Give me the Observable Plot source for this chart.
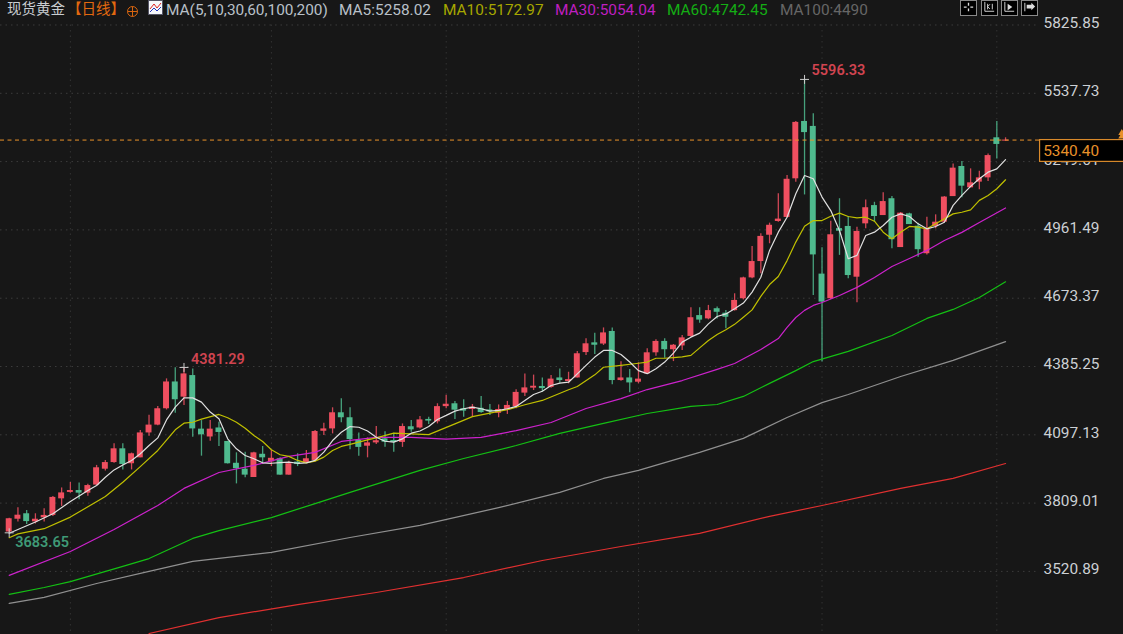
<!DOCTYPE html>
<html>
<head>
<meta charset="utf-8">
<script src="https://cdn.jsdelivr.net/npm/d3@7"></script>
<script src="https://cdn.jsdelivr.net/npm/@observablehq/plot@0.6"></script>
<style>
html,body{margin:0;padding:0;background:#171717;overflow:hidden}
#wrap{position:relative;width:1123px;height:634px;font-family:Roboto,"Noto Sans CJK SC",sans-serif}
#wrap svg.plot{display:block}
.h{position:absolute;top:0;height:18px;line-height:18px;font-size:15px;white-space:nowrap}
.tool{position:absolute;top:0;width:17px;height:16px;background:#000;border:1px solid #8a8a8a;box-sizing:border-box}
</style>
</head>
<body>
<div id="wrap"></div>
<script>
const opens=[3687,3741,3764,3730,3747,3757,3827,3854,3862,3851,3885,3952,3980,4038,3975,4000,4105,4138,4207,4320,4256,4347,4121,4088,4126,4069,3977,3952,3917,4015,3983,3996,3927,3982,3977,3989,4112,4122,4190,4169,4073,4049,4063,4080,4073,4065,4131,4126,4162,4152,4216,4228,4207,4204,4209,4202,4188,4204,4216,4273,4294,4301,4297,4337,4322,4337,4444,4485,4480,4533,4326,4337,4319,4354,4443,4491,4456,4472,4512,4600,4586,4629,4610,4621,4671,4759,4828,4939,4997,5014,5177,5419,5398,4775,4671,4967,4976,4762,4987,5064,5022,5093,4887,5029,4977,4861,4976,4994,5102,5229,5139,5163,5181,5350,5336];
const highs=[3745,3789,3778,3764,3785,3837,3873,3896,3894,3888,3968,3989,4059,4059,4020,4115,4180,4216,4333,4380,4381.29,4375,4157,4157,4150,4070,4021,4023,4023,4048,4031,4000,3986,4017,4031,4115,4146,4211,4249,4211,4105,4084,4132,4110,4104,4143,4157,4174,4171,4228,4264,4238,4245,4225,4259,4225,4223,4238,4287,4354,4349,4337,4347,4375,4361,4448,4502,4526,4548,4548,4405,4373,4401,4460,4498,4502,4478,4516,4633,4633,4643,4636,4621,4692,4762,4891,4945,4990,5114,5191,5419,5596.33,5451,4886,4998,5093,5018,4973,5088,5078,5118,5102,5035,5032,4990,5015,5025,5102,5240,5250,5219,5209,5282,5419,5350];
const lows=[3683.65,3729,3719,3721,3729,3752,3795,3851,3823,3838,3882,3944,3977,3949,3949,4000,4091,4135,4202,4188,4221,4087,4007,4070,4048,3974,3890,3916,3917,3972,3963,3926,3926,3963,3977,3982,4094,4101,4148,4034,4007,4000,4056,4045,4024,4044,4108,4122,4141,4143,4207,4162,4171,4171,4188,4179,4169,4183,4207,4259,4284,4277,4294,4315,4312,4337,4432,4436,4474,4308,4323,4274,4312,4352,4428,4420,4406,4453,4509,4568,4582,4586,4544,4619,4666,4755,4776,4903,4994,5012,5163,5109,4685,4404,4668,4854,4755,4654,4966,4994,5022,4882,4887,4984,4846,4856,4966,4991,5102,5097,5139,5131,5166,5261,5336];
const closes=[3743,3758,3731,3741,3757,3833,3852,3862,3851,3883,3958,3980,4038,3972,4017,4105,4138,4207,4320,4245,4354,4122,4097,4121,4107,3975,3954,3927,4021,4000,3998,3927,3975,3972,3996,4111,4122,4190,4169,4077,4044,4063,4072,4066,4065,4132,4118,4160,4155,4216,4226,4201,4197,4214,4191,4194,4204,4221,4276,4295,4302,4292,4332,4326,4330,4439,4481,4475,4527,4326,4337,4316,4332,4443,4491,4456,4475,4506,4591,4581,4621,4614,4593,4664,4759,4828,4934,4981,5007,5175,5415,5372,4856,4657,4941,4956,4769,4955,5055,5018,5081,4920,5032,4984,4878,4966,4994,5100,5222,5146,5160,5181,5275,5322,5340.4];

const ma5Idx=[0,3,5,7,9,10,11,12,13,14,15,16,17,18,19,20,21,22,23,24,25,26,27,28,29,30,31,32,33,34,35,36,37,38,39,40,41,42,43,44,45,46,47,48,49,50,51,52,53,54,55,56,57,58,59,60,61,62,63,64,65,66,67,68,69,70,71,72,73,74,75,76,77,78,79,80,81,82,83,84,85,86,87,88,89,90,91,92,93,94,95,96,97,98,99,100,101,102,103,104,105,106,107,108,109,110,111,112,113,114];
const ma5Val=[3682,3729,3764,3816,3862,3883,3918,3949,3970,3989,4017,4052,4084,4160,4214,4253,4253,4235,4193,4165,4080,4038,4010,3996,3979,3977,3980,3982,3977,3979,3989,4024,4073,4108,4132,4129,4113,4087,4070,4066,4080,4104,4113,4132,4162,4179,4197,4207,4214,4207,4197,4200,4207,4217,4242,4267,4281,4305,4315,4319,4354,4390,4425,4453,4453,4436,4404,4368,4355,4376,4404,4442,4488,4509,4526,4565,4596,4607,4629,4653,4699,4762,4875,4952,5015,5114,5191,5177,5100,5043,4959,4840,4854,4938,4952,4980,5015,5029,5018,4987,4966,4976,4994,5065,5107,5145,5177,5205,5219,5258.02];

const ma10Idx=[0,1,4,7,11,13,15,17,19,20,21,22,24,25,26,27,28,29,30,31,32,33,34,35,36,37,38,39,41,42,44,48,51,53,57,59,61,64,65,67,68,70,72,73,74,75,76,77,78,79,80,81,82,83,84,85,86,87,88,89,90,91,92,93,94,95,96,97,98,99,100,101,102,103,104,105,106,107,108,109,110,111,112,113,114];
const ma10Val=[3663,3679,3701,3750,3837,3897,3963,4031,4118,4146,4150,4163,4183,4169,4150,4125,4094,4069,4034,4013,4006,3989,3979,3986,4003,4031,4048,4057,4076,4084,4104,4098,4143,4174,4203,4224,4242,4287,4301,4350,4382,4390,4399,4404,4420,4420,4423,4426,4432,4464,4495,4520,4540,4563,4593,4624,4681,4731,4765,4832,4910,4977,5001,5001,5019,5032,5018,5012,5015,4998,4952,4924,4952,4976,4973,4966,4987,5008,5029,5036,5046,5086,5107,5135,5172.97];

const ma30Idx=[0,7,12,17,20,24,28,32,35,38,42,46,50,54,58,62,66,70,73,77,81,83,86,88,89,90,91,92,93,95,97,99,101,103,105,107,109,111,114];
const ma30Val=[3504,3605,3698,3799,3871,3938,3968,4006,4023,4069,4086,4086,4079,4086,4115,4149,4208,4250,4288,4326,4373,4398,4457,4503,4550,4592,4622,4643,4655,4685,4719,4761,4807,4841,4875,4917,4951,4993,5054.04];

const ma60Idx=[0,4,7,13,16,18,21,24,30,35,39,47,52,58,63,68,73,78,81,84,87,90,92,96,101,105,108,111,114];
const ma60Val=[3424,3453,3478,3542,3575,3609,3660,3693,3748,3807,3854,3947,3997,4052,4103,4145,4187,4217,4225,4259,4314,4368,4406,4449,4516,4588,4626,4676,4742.45];

const ma100Idx=[0,4,10,16,21,30,39,47,56,63,68,72,79,84,89,93,96,102,108,114];
const ma100Val=[3386,3411,3470,3521,3563,3601,3664,3715,3790,3854,3913,3947,4023,4082,4170,4233,4267,4343,4411,4490];

const ma200Idx=[16,24,33,42,52,61,70,79,87,93,102,108,114];
const ma200Val=[3259,3326,3381,3432,3495,3567,3626,3681,3753,3799,3871,3913,3976];

const yTicks=[5825.85,5537.73,5249.61,4961.49,4673.37,4385.25,4097.13,3809.01,3520.89];
const gridIdx=[7,30,50,72,93,113];
const lastPrice=5340.40;
const marks3=[
  {i:91,v:5596.33,col:"#d04450",dy:-9,dx:7,sym:"#ccc"},
  {i:20,v:4381.29,col:"#d04450",dy:-8,dx:7,sym:"#ccc"},
  {i:0,v:3683.65,col:"#3f9a76",dy:10,dx:6,sym:"#ccc"}
];

const UP="#ef4f60", DOWN="#4fba8e";
const candles=opens.map((o,i)=>({i,o,h:highs[i],l:lows[i],c:closes[i],col:closes[i]>=o?UP:DOWN}));
const maLine=(idx,val)=>idx.map((i,k)=>({i,v:val[k]}));
const LINES=[[ma200Idx,ma200Val,"#e03030"],[ma100Idx,ma100Val,"#909090"],[ma60Idx,ma60Val,"#14c014"],[ma30Idx,ma30Val,"#cc22cc"],[ma10Idx,ma10Val,"#c0c000"],[ma5Idx,ma5Val,"#e0e0e0"]];

const plot=Plot.plot({
  width:1123,height:634,marginLeft:0,marginRight:87,marginTop:0,marginBottom:0,
  style:{background:"#171717",fontFamily:"Roboto,sans-serif"},
  x:{domain:[-0.995,117.54],range:[0,1036],axis:null},
  y:{domain:[3254.7,5929.2],range:[634,0]},
  marks:[
    Plot.ruleY(yTicks,{stroke:"#3c3c3c",strokeDasharray:"1.5,4"}),
    Plot.ruleX(gridIdx,{y1:5825.85,y2:3254.7,stroke:"#333",strokeDasharray:"1.5,4"}),
    Plot.axisY(yTicks,{anchor:"right",tickSize:0,tickPadding:7,tickFormat:d=>d.toFixed(2),fill:"#ccd0d4",fontSize:15.4,dy:-2,label:null}),
    Plot.ruleX(candles,{x:"i",y1:"l",y2:"h",stroke:"col",strokeWidth:1.3,strokeOpacity:0.85}),
    Plot.rect(candles,{x1:d=>d.i-0.34,x2:d=>d.i+0.34,y1:d=>Math.min(d.o,d.c),y2:d=>Math.max(d.o,d.c),fill:"col"}),
    ...LINES.map(([idx,val,col])=>Plot.line(maLine(idx,val),{x:"i",y:"v",stroke:col,strokeWidth:1.2,curve:"linear"})),
    Plot.dot(marks3,{x:"i",y:"v",symbol:"plus",r:3,stroke:"sym",strokeWidth:1}),
    Plot.text(marks3,{x:"i",y:"v",text:d=>d.v.toFixed(2),fill:"col",textAnchor:"start",fontSize:14.5,fontWeight:600,
      render(index,scales,values,dims,ctx,next){
        const g=next(index,scales,values,dims,ctx);
        d3.select(g).selectAll("text").each(function(_,k){const m=marks3[index[k]];d3.select(this).attr("dx",m.dx).attr("dy",m.dy);});
        return g;
      }}),
    Plot.ruleY([lastPrice],{x1:-0.995,x2:127.5,stroke:"#e8912a",strokeWidth:1,strokeDasharray:"4,3.5"}),
    Plot.rect([lastPrice],{x1:117.95,x2:128,y1:d=>d,y2:d=>d-92,fill:"#000",stroke:"#d98a2b",strokeWidth:1.2}),
    Plot.text([lastPrice],{x:118.3,y:d=>d-46,text:d=>d.toFixed(2),fill:"#e8912a",fontSize:15.4,textAnchor:"start"}),
    Plot.dot([lastPrice+15,lastPrice+30],{x:127.3,y:d=>d,symbol:"triangle",r:2.6,fill:"#e8912a"})
  ]
});
const wrap=document.getElementById("wrap");
wrap.appendChild(plot);
const hdr=[
  ["现货黄金",7,"#c9cdd1",14.5,400],
  ["【日线】",67,"#e2690f",14.5,400],
  ["MA(5,10,30,60,100,200)",166,"#b9c0c8",15.4,400],
  ["MA5:5258.02",339,"#b9c0c8",15.4,400],
  ["MA10:5172.97",443,"#a6a600",15.4,400],
  ["MA30:5054.04",555,"#bf1fc0",15.4,400],
  ["MA60:4742.45",667,"#14ad14",15.4,400],
  ["MA100:4490",780,"#666",15.4,400]
];
hdr.forEach(([t,l,c,s,w])=>{const e=document.createElement("div");e.className="h";e.textContent=t;e.style.cssText=`left:${l}px;top:1px;color:${c};font-size:${s}px;font-weight:${w}`;wrap.appendChild(e);});
const add=(html)=>{const t=document.createElement("div");t.innerHTML=html;wrap.appendChild(t.firstChild);};
add('<svg style="position:absolute;left:126px;top:5px" width="13" height="13" viewBox="0 0 13 13"><circle cx="6.5" cy="6.5" r="5" fill="none" stroke="#d9650f"/><path d="M1.5 6.5H11.5M6.5 1.5V11.5" stroke="#d9650f"/></svg>');
add('<svg style="position:absolute;left:148px;top:0" width="15" height="15" viewBox="0 0 15 15"><rect x=".5" y=".5" width="14" height="14" fill="#f4f6fa" stroke="#556"/><path d="M2 9L6 4L9 8L13 3" fill="none" stroke="#d22"/><path d="M2 12L6 8L9 11L13 7" fill="none" stroke="#23b"/></svg>');
const glyphs=[
 '<path d="M8 2V5M8 8V11M3 6.5H6M10 6.5H13" stroke="#ddd" stroke-width="1.4" fill="none"/>',
 '<path d="M3 1V11H13" stroke="#ddd" fill="none"/><path d="M6 3V9M11 3V9M6 6L8.5 3.5M6 6L8.5 8.5" stroke="#ddd" fill="none"/>',
 '<path d="M3 1V11H13" stroke="#ddd" fill="none"/><path d="M6 3L11 6.5L6 10Z" fill="#ddd"/>',
 '<path d="M3 2V11" stroke="#ddd" fill="none"/><path d="M5 4H10V2L14 6L10 10V8H5Z" fill="#ddd"/>'
];
[960,981,1001,1021].forEach((l,k)=>add(`<svg class="tool" style="left:${l}px" viewBox="0 0 16 15">${glyphs[k]}</svg>`));
</script>
</body>
</html>
